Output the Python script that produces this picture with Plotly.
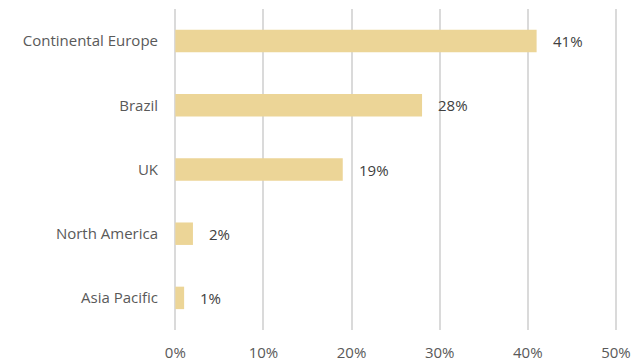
import plotly.graph_objects as go

categories = ["Continental Europe", "Brazil", "UK", "North America", "Asia Pacific"]
values = [41, 28, 19, 2, 1]
labels = ["41%", "28%", "19%", "2%", "1%"]
tick_vals = [0, 10, 20, 30, 40, 50]
tick_text = ["0%", "10%", "20%", "30%", "40%", "50%"]

fig = go.Figure()
fig.add_trace(go.Bar(
    y=categories, x=values, orientation="h",
    marker=dict(color="#ECD597", line=dict(width=0)),
    hoverinfo="skip",
))
for c, v, t in zip(categories, values, labels):
    fig.add_annotation(x=v, y=c, text=t, showarrow=False, xanchor="left",
                       xshift=14, font=dict(size=15, color="#404040"))

fig.update_layout(
    width=633, height=361,
    margin=dict(l=174, r=14, t=9, b=31),
    plot_bgcolor="white", paper_bgcolor="white",
    bargap=0.65, showlegend=False,
    font=dict(family="Open Sans, Liberation Sans, sans-serif", size=15, color="#595959"),
    xaxis=dict(range=[-0.15, 50.35], tickvals=tick_vals, ticktext=tick_text,
               showgrid=True, gridcolor="#DADADA", gridwidth=2,
               zeroline=True, zerolinecolor="#DADADA", zerolinewidth=2,
               showline=False, ticks="", automargin=False,
               ticklabelstandoff=12, tickfont=dict(size=15, color="#595959")),
    yaxis=dict(categoryorder="array", categoryarray=categories[::-1],
               showgrid=False, zeroline=False, showline=False, ticks="", automargin=False,
               ticklabelstandoff=15, tickfont=dict(size=15, color="#595959")),
)
fig.write_html("out.html")
